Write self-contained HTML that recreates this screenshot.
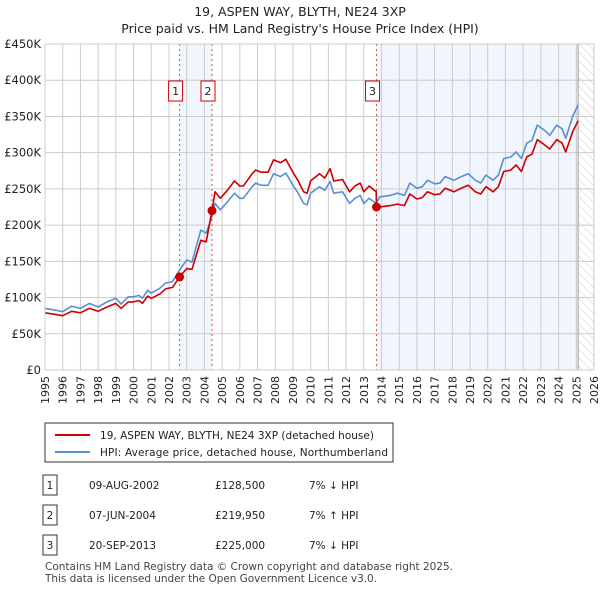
<!DOCTYPE html>
<html><head><meta charset="utf-8"><style>
body{margin:0;background:#fff;font-family:"Liberation Sans","DejaVu Sans",sans-serif;}
svg text{font-family:"DejaVu Sans","Liberation Sans",sans-serif;}
</style></head><body>
<svg id="chart" width="600" height="590" viewBox="0 0 600 590" xmlns="http://www.w3.org/2000/svg">
<defs><pattern id="hatch" width="6" height="6" patternUnits="userSpaceOnUse" patternTransform="rotate(-45)"><line x1="0" y1="0" x2="0" y2="6" stroke="#ccc" stroke-width="1"/></pattern></defs>
<text x="300" y="16" text-anchor="middle" font-size="12.5" fill="#222">19, ASPEN WAY, BLYTH, NE24 3XP</text>
<text x="300" y="33" text-anchor="middle" font-size="12.5" fill="#222">Price paid vs. HM Land Registry's House Price Index (HPI)</text>
<g id="plot"></g>
<rect x="45" y="423" width="348" height="39" fill="#fff" stroke="#333"/>
<line x1="55" y1="435" x2="90" y2="435" stroke="#cc0000" stroke-width="2"/>
<text x="100" y="439" font-size="10.5" fill="#222" textLength="274">19, ASPEN WAY, BLYTH, NE24 3XP (detached house)</text>
<line x1="55" y1="452" x2="90" y2="452" stroke="#5b8fd0" stroke-width="2"/>
<text x="100" y="456" font-size="10.5" fill="#222" textLength="288">HPI: Average price, detached house, Northumberland</text>
<g id="table" font-size="10.5" fill="#222"></g>
<text x="45" y="570" font-size="10.5" fill="#444" textLength="408">Contains HM Land Registry data © Crown copyright and database right 2025.</text>
<text x="45" y="582" font-size="10.5" fill="#444" textLength="332">This data is licensed under the Open Government Licence v3.0.</text>
</svg>
<script>
const hpiYears=[1995,1995.5,1996,1996.5,1997,1997.5,1998,1998.5,1999,1999.3,1999.7,2000,2000.3,2000.5,2000.8,2001,2001.5,2001.8,2002.2,2002.6,2003,2003.3,2003.8,2004.1,2004.43,2004.6,2004.9,2005.3,2005.7,2006,2006.2,2006.7,2006.9,2007.2,2007.6,2007.9,2008.3,2008.6,2009,2009.3,2009.6,2009.8,2010,2010.5,2010.8,2011.1,2011.3,2011.8,2012.2,2012.5,2012.8,2013,2013.3,2013.7,2013.9,2014.5,2014.9,2015.3,2015.6,2016,2016.3,2016.6,2017,2017.3,2017.6,2018.1,2018.5,2018.9,2019.3,2019.6,2019.9,2020.3,2020.6,2020.9,2021.3,2021.6,2021.9,2022.2,2022.5,2022.8,2023.2,2023.5,2023.9,2024.2,2024.4,2024.8,2025.1];
const hpiValues=[85,83,80.5,88,85,92,87,94,99,91,101,101,103,99,110,106,113,120,122,138,152,149,193,189,212,230,221,232,244,237,237,253,258,255,255,271,267,272,255,244,230,228,244,253,248,260,244,246,230,237,241,230,237,230,239,241,244,241,258,251,253,262,257,258,267,262,267,271,262,258,269,262,269,292,294,301,292,313,317,338,331,324,338,333,320,350,366];
const redYears=[1995,1995.5,1996,1996.5,1997,1997.5,1998,1998.5,1999,1999.3,1999.7,2000,2000.3,2000.5,2000.8,2001,2001.5,2001.8,2002.2,2002.6,2003,2003.3,2003.8,2004.1,2004.43,2004.6,2004.9,2005.3,2005.7,2006,2006.2,2006.7,2006.9,2007.2,2007.6,2007.9,2008.3,2008.6,2009,2009.3,2009.6,2009.8,2010,2010.5,2010.8,2011.1,2011.3,2011.8,2012.2,2012.5,2012.8,2013,2013.3,2013.7,2013.72,2013.9,2014.5,2014.9,2015.3,2015.6,2016,2016.3,2016.6,2017,2017.3,2017.6,2018.1,2018.5,2018.9,2019.3,2019.6,2019.9,2020.3,2020.6,2020.9,2021.3,2021.6,2021.9,2022.2,2022.5,2022.8,2023.2,2023.5,2023.9,2024.2,2024.4,2024.8,2025.1];
const redValues=[79,77,75,81,79,85,81,87,92,85,94,94,96,92,102,99,105,112,114,128.5,140,139,179,177,219.95,246,237,248,261,254,254,271,276,273,273,290,286,291,273,261,246,244,261,271,265,278,261,263,246,254,258,246,254,246,225,225,227,229,227,243,236,238,246,242,243,251,246,251,255,246,243,253,246,253,274,276,283,274,294,298,318,311,305,318,313,301,329,344];
const saleYears=[2002.6,2004.43,2013.72];
const salePrices=[128.5,219.95,225];
const saleLabels=["1","2","3"];
const saleDates=["09-AUG-2002","07-JUN-2004","20-SEP-2013"];
const salePriceText=["£128,500","£219,950","£225,000"];
const saleHpiText=["7% ↓ HPI","7% ↑ HPI","7% ↓ HPI"];
const yTicks=[0,50,100,150,200,250,300,350,400,450];
const yTickLabels=["£0","£50K","£100K","£150K","£200K","£250K","£300K","£350K","£400K","£450K"];
const xTicks=[1995,1996,1997,1998,1999,2000,2001,2002,2003,2004,2005,2006,2007,2008,2009,2010,2011,2012,2013,2014,2015,2016,2017,2018,2019,2020,2021,2022,2023,2024,2025,2026];
const dataEnd=2025.1;

const NS="http://www.w3.org/2000/svg";
const X0=45,X1=594,Y0=370,Y1=44;
const xs=y=>X0+(y-1995)/(2026-1995)*(X1-X0);
const ys=v=>Y0-v/450*(Y0-Y1);
const plot=document.getElementById('plot');
function mk(tag,attrs,parent){const e=document.createElementNS(NS,tag);for(const k in attrs)e.setAttribute(k,attrs[k]);(parent||plot).appendChild(e);return e;}

let r=mk('rect',{x:X0,y:Y1,width:X1-X0,height:Y0-Y1,fill:'#fff'});


r=mk('rect',{x:xs(saleYears[0]),y:Y1,width:xs(saleYears[1])-xs(saleYears[0]),height:Y0-Y1,fill:'#f1f5fd'});


r=mk('rect',{x:xs(saleYears[2]),y:Y1,width:xs(dataEnd)-xs(saleYears[2]),height:Y0-Y1,fill:'#f1f5fd'});


r=mk('rect',{x:xs(dataEnd),y:Y1,width:X1-xs(dataEnd),height:Y0-Y1,fill:'url(#hatch)'});



xTicks.forEach(t=>{
  const l=mk('line',{x1:xs(t),x2:xs(t),y1:Y1,y2:Y0,stroke:'#cccccc','stroke-width':1});
  
  
  const tx=mk('text',{x:0,y:0,'font-size':11,fill:'#222','text-anchor':'end',transform:`translate(${xs(t)+4},${Y0+6}) rotate(-90)`});
  tx.textContent=t;
  
  
});
yTicks.forEach((t,i)=>{
  const l=mk('line',{x1:X0,x2:X1,y1:ys(t),y2:ys(t),stroke:'#cccccc','stroke-width':1});
  
  
  const tx=mk('text',{x:X0-4,y:ys(t)+4,'font-size':11.5,fill:'#222','text-anchor':'end'});
  tx.textContent=yTickLabels[i];
  
  
});
r=mk('line',{x1:xs(dataEnd),x2:xs(dataEnd),y1:Y1,y2:Y0,stroke:'#999','stroke-width':1});



saleYears.forEach((y,i)=>{
  const l=mk('line',{x1:xs(y),x2:xs(y),y1:Y1,y2:Y0,stroke:'#e05050','stroke-width':1,'stroke-dasharray':'2,3'});
  
  
});

function path(xa,va,color,name){
  const d=xa.map((x,i)=>(i?'L':'M')+xs(x).toFixed(1)+','+ys(va[i]).toFixed(1)).join('');
  const p=mk('path',{d:d,fill:'none',stroke:color,'stroke-width':1.6,'stroke-linejoin':'round'});
  
  
}
path(hpiYears,hpiValues,'#5b8fd0','hpi-line');
path(redYears,redValues,'#cc0000','price-paid-line');

saleYears.forEach((y,i)=>{
  const c=mk('circle',{cx:xs(y),cy:ys(salePrices[i]),r:4.5,fill:'#cc0000'});
  
  
  const b=mk('rect',{x:xs(y)-11,y:81,width:14,height:20,fill:'#fff',stroke:'#cc0000'});
  
  
  const t=mk('text',{x:xs(y)-4,y:95,'font-size':11,fill:'#222','text-anchor':'middle'});
  t.textContent=saleLabels[i];
  
  
});
r=mk('rect',{x:X0,y:Y1,width:X1-X0,height:Y0-Y1,fill:'none',stroke:'#cccccc'});



const tbl=document.getElementById('table');
saleYears.forEach((y,i)=>{
  const cy=485+i*30;
  const b=mk('rect',{x:43,y:cy-10,width:14,height:20,fill:'#fff',stroke:'#333'},tbl);
  
  
  const cells=[[50,saleLabels[i],'middle'],[89,saleDates[i],'start'],[215,salePriceText[i],'start'],[309,saleHpiText[i],'start']];
  cells.forEach((c,j)=>{
    const t=mk('text',{x:c[0],y:cy+4,'text-anchor':c[2]},tbl);
    t.textContent=c[1];
    
    
  });
});
</script>
</body></html>
